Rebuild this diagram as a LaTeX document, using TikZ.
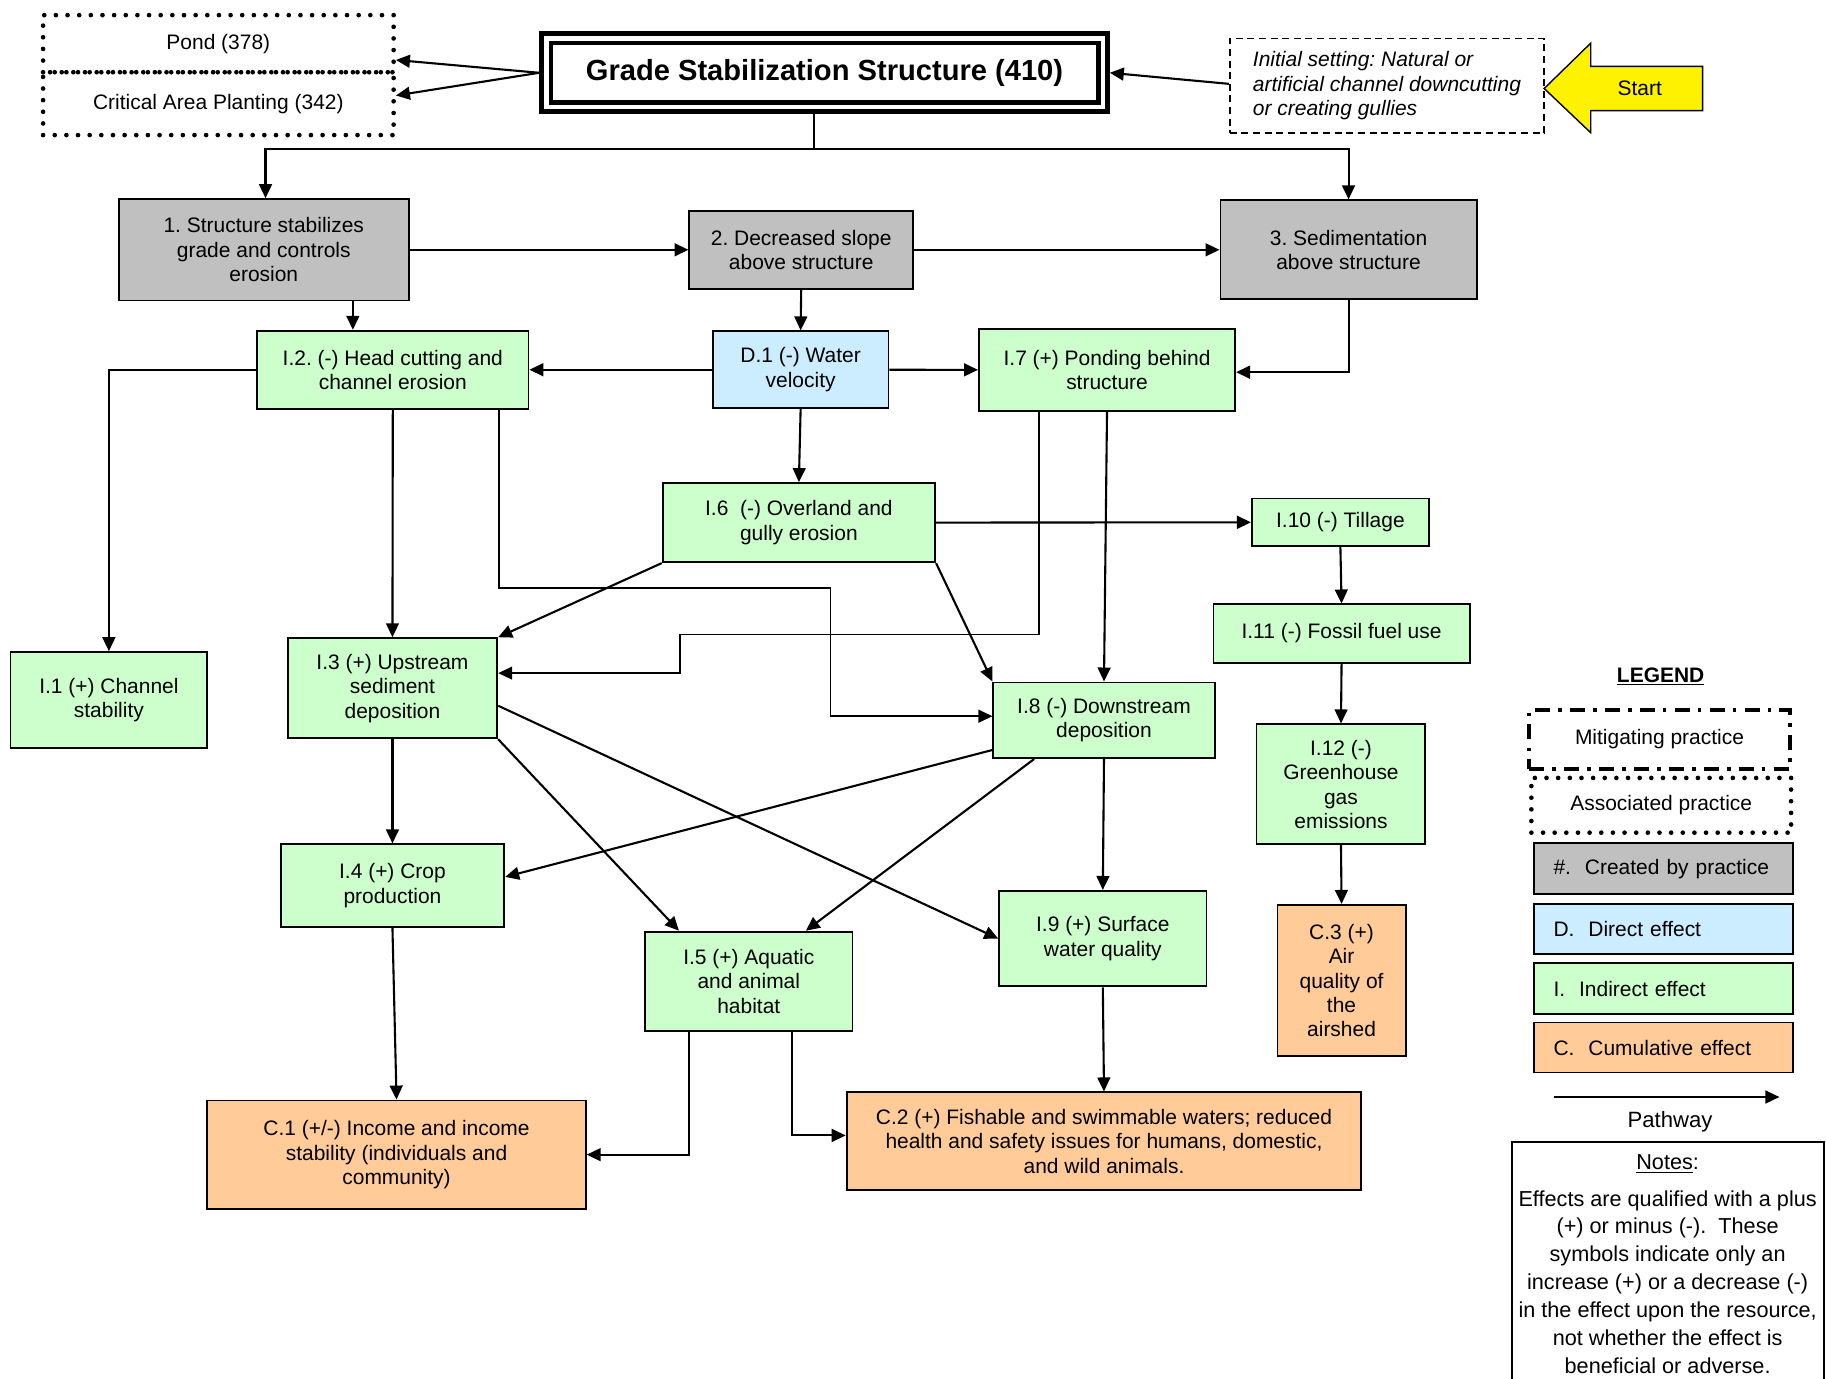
\documentclass[tikz,border=0pt]{standalone}
\usepackage{fontspec}
\setmainfont{Liberation Sans}
\usetikzlibrary{arrows.meta}
\definecolor{madegray}{HTML}{C0C0C0}
\definecolor{directblue}{HTML}{CCECFF}
\definecolor{indirectgreen}{HTML}{CCFFCC}
\definecolor{cumulorange}{HTML}{FFCC99}
\frenchspacing
\begin{document}
\begin{tikzpicture}[x=1pt, y=-1pt,
    every node/.style={font=\fontsize{18}{21}\selectfont},
    box/.style={draw, line width=1.6pt, align=center, inner sep=0pt},
    made/.style={box, fill=madegray},
    direct/.style={box, fill=directblue},
    indirect/.style={box, fill=indirectgreen},
    cumul/.style={box, fill=cumulorange},
    assoc/.style={draw, line width=4pt, line cap=round, dash pattern=on 0pt off 10pt, align=center, inner sep=0pt},
    mitig/.style={draw, line width=3.5pt, dash pattern=on 13pt off 7pt on 3pt off 7pt, align=center, inner sep=0pt},
    keybox/.style={text width=189pt, inner xsep=17pt, align=left, minimum height=44pt},
    pathway/.style={-{Triangle[length=12pt,width=11pt]}, line width=1.8pt}]

    \clip (0,0) rectangle (1568,1184);

    %practices:
    \node[assoc, minimum width=301pt, minimum height=49pt] (pond) at (187.5,37.5) {Pond (378)};
    \node[assoc, minimum width=301pt, minimum height=54pt] (crit) at (187.5,89) {Critical Area Planting (342)};
    \node[draw, line width=4pt, double, double distance=4pt, minimum width=478pt, minimum height=59pt,
          outer sep=6pt, font=\fontsize{25}{30}\selectfont\bfseries] (grade) at (708,62.5) {Grade Stabilization Structure (410)};
    \node[draw, line width=1.5pt, dash pattern=on 6pt off 4pt, minimum width=270pt, minimum height=81pt,
          align=left, font=\fontsize{18}{21}\selectfont\itshape] (init) at (1191,73.5)
          {Initial setting: Natural or\\artificial channel downcutting\\or creating gullies};

    %start arrow:
    \draw[fill=yellow, line width=1.2pt] (1326,76) -- (1366,37) -- (1366,57) -- (1462,57)
        -- (1462,95) -- (1366,95) -- (1366,114) -- cycle;
    \node (start) at (1408,76) {Start};

    %created by practice:
    \node[made, minimum width=249pt, minimum height=87pt] (box1) at (226.5,214.5) {1. Structure stabilizes\\grade and controls\\erosion};
    \node[made, minimum width=192pt, minimum height=67pt] (box2) at (688,214.5) {2. Decreased slope\\above structure};
    \node[made, minimum width=220pt, minimum height=85pt] (box3) at (1158,214.5) {3. Sedimentation\\above structure};

    %effects:
    \node[direct, minimum width=151pt, minimum height=66pt] (d1) at (687.5,317.5) {D.1 (-) Water\\velocity};
    \node[indirect, minimum width=233pt, minimum height=67pt] (i2) at (337.3,317.5) {I.2. (-) Head cutting and\\channel erosion};
    \node[indirect, minimum width=220pt, minimum height=70pt] (i7) at (950.6,317.6) {I.7 (+) Ponding behind\\structure};
    \node[indirect, minimum width=234pt, minimum height=68pt] (i6) at (686,448.75) {I.6\ \ (-) Overland and\\gully erosion};
    \node[indirect, minimum width=152pt, minimum height=41pt] (i10) at (1151,448.5) {I.10 (-) Tillage};
    \node[indirect, minimum width=220pt, minimum height=50pt] (i11) at (1152,544) {I.11 (-) Fossil fuel use};
    \node[indirect, minimum width=145pt, minimum height=103pt] (i12) at (1151.5,673.5) {I.12 (-)\\Greenhouse\\gas\\emissions};
    \node[indirect, minimum width=169pt, minimum height=82pt] (i1) at (93.5,601) {I.1 (+) Channel\\stability};
    \node[indirect, minimum width=180pt, minimum height=86pt] (i3) at (337,591) {I.3 (+) Upstream\\sediment\\deposition};
    \node[indirect, minimum width=190pt, minimum height=65pt] (i8) at (948,618.5) {I.8 (-) Downstream\\deposition};
    \node[indirect, minimum width=192pt, minimum height=71pt] (i4) at (337,760.5) {I.4 (+) Crop\\production};
    \node[indirect, minimum width=178pt, minimum height=85pt] (i5) at (643,842.5) {I.5 (+) Aquatic\\and animal\\habitat};
    \node[indirect, minimum width=178pt, minimum height=82pt] (i9) at (947,806) {I.9 (+) Surface\\water quality};
    \node[cumul, minimum width=110pt, minimum height=130pt] (c3) at (1152,842) {C.3 (+)\\Air\\quality of\\the\\airshed};
    \node[cumul, minimum width=325pt, minimum height=93pt] (c1) at (340.5,991.5) {C.1 (+/-) Income and income\\stability (individuals and\\community)};
    \node[cumul, minimum width=442pt, minimum height=84pt] (c2) at (948,980) {C.2 (+) Fishable and swimmable waters; reduced\\health and safety issues for humans, domestic,\\and wild animals.};

    %pathways from the practice:
    \draw[pathway] (grade.west) -- ([yshift=-14pt]pond.east);
    \draw[pathway] (grade.west) -- ([yshift=7pt]crit.east);
    \draw[pathway] ([yshift=1.5pt]init.west) -- (grade.east);
    \coordinate (split) at (699,128);
    \draw[line width=1.4pt] ([xshift=-9pt]grade.south) -- (split);
    \draw[pathway] (split) -| ([xshift=1.5pt]box1.north);
    \draw[pathway] (split) -| (box3.north);
    \draw[pathway] (box1.east) -- (box2.west);
    \draw[pathway] (box2.east) -- (box3.west);
    \draw[pathway] ([xshift=76.5pt]box1.south) -- ([xshift=-34.3pt]i2.north);
    \draw[pathway] (box2.south) -- (d1.north);
    \draw[pathway] (box3.south) |- ([yshift=-2pt]i7.east);

    %pathways between effects:
    \draw[pathway] (d1.west) -- (i2.east);
    \draw[pathway] (d1.east) -- (i7.west);
    \draw[pathway] (d1.south) -- (i6.north);
    \draw[pathway] (i2.west) -| (i1.north);
    \draw[pathway] (i2.south) -- (i3.north);
    \coordinate (bendA) at (713,505);
    \draw[pathway, line width=1.3pt] ([xshift=91.2pt]i2.south) |- (bendA) |- ([yshift=3.5pt]i8.west);
    \draw[pathway] (i6.east) -- (i10.west);
    \draw[pathway] (i6.south west) -- (i3.north east);
    \draw[pathway] (i6.south east) -- (i8.north west);
    \coordinate (bendB) at (584,545);
    \draw[pathway, line width=1.3pt] ([xshift=-58.6pt]i7.south) |- (bendB) |- ([yshift=13pt]i3.east);
    \draw[pathway] (i7.south) -- (i8.north);
    \draw[pathway] (i10.south) -- (i11.north);
    \draw[pathway] (i11.south) -- (i12.north);
    \draw[pathway] (i12.south) -- (c3.north);
    \draw[pathway] (i3.south) -- (i4.north);
    \draw[pathway] (i3.south east) -- ([xshift=-60pt]i5.north);
    \draw[pathway] ([yshift=-15pt]i3.east) -- (i9.west);
    \draw[pathway] ([yshift=-25.5pt]i8.west) -- ([yshift=7.5pt]i4.east);
    \draw[pathway] ([xshift=-60pt]i8.south) -- ([xshift=49pt]i5.north);
    \draw[pathway] (i8.south) -- (i9.north);
    \draw[pathway] (i4.south) -- (c1.north);
    \draw[pathway] ([xshift=-51pt]i5.south) |- (c1.east);
    \draw[pathway] ([xshift=37pt]i5.south) |- ([yshift=5pt]c2.west);
    \draw[pathway] (i9.south) -- (c2.north);

    %legend:
    \node[font=\fontsize{18}{21}\selectfont\bfseries] (legend) at (1426,581) {\underline{LEGEND}};
    \node[mitig, minimum width=224pt, minimum height=50pt] (keymitig) at (1425,635) {Mitigating practice};
    \node[assoc, minimum width=223pt, minimum height=47pt] (keyassoc) at (1426.5,691.5) {Associated practice};
    \node[made, keybox] (keymade) at (1428.5,746) {\#.\ \ Created by practice};
    \node[direct, keybox, minimum height=43pt] (keydirect) at (1428.5,797.5) {D.\ \ Direct effect};
    \node[indirect, keybox] (keyindirect) at (1428.5,849) {I.\ \ Indirect effect};
    \node[cumul, keybox, minimum height=43pt] (keycumul) at (1428.5,899.5) {C.\ \ Cumulative effect};
    \coordinate (pwtail) at (1334,942);
    \coordinate (pwhead) at (1528,942);
    \draw[pathway] (pwtail) -- (pwhead);
    \node[font=\fontsize{19}{24}\selectfont] (pwlabel) at (1434,963) {Pathway};

    %notes:
    \node[draw, line width=1.6pt, anchor=north, minimum width=268pt, inner xsep=2pt,
          inner ysep=11pt, align=center, font=\fontsize{18.6}{24}\selectfont] (notes) at (1432,980)
          {\underline{Notes}:\\[7pt]Effects are qualified with a plus\\(+) or minus (-).\ \ These\\symbols indicate only an\\increase (+) or a decrease (-)\\in the effect upon the resource,\\not whether the effect is\\beneficial or adverse.};

\end{tikzpicture}
\end{document}
